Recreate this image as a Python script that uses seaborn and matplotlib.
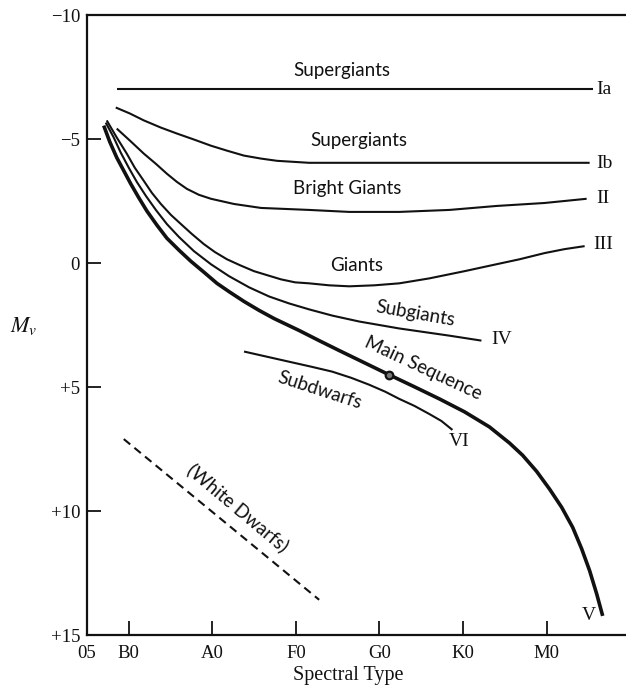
import matplotlib
matplotlib.use("Agg")
import matplotlib.pyplot as plt
import seaborn as sns
import pandas as pd

# ---- data (spectral position, absolute magnitude) ----
spectral_labels = ["05", "B0", "A0", "F0", "G0", "K0", "M0"]
spectral_pos = [0.5, 1, 2, 3, 4, 5, 6]
mag_ticks = [-10, -5, 0, 5, 10, 15]
mag_labels = ["\u221210", "\u22125", "0", "+5", "+10", "+15"]

ia_x = [0.856, 6.552]
ia_y = [-7.0, -7.0]

ib_x = [0.844, 1.012, 1.180, 1.384, 1.576, 1.779, 1.983, 2.175, 2.379, 2.583, 2.775, 3.158, 3.638, 4.837, 6.515]
ib_y = [-6.27, -6.03, -5.75, -5.46, -5.22, -4.98, -4.73, -4.53, -4.33, -4.21, -4.12, -4.04, -4.04, -4.04, -4.04]

ii_x = [0.856, 1.012, 1.180, 1.324, 1.456, 1.576, 1.695, 1.839, 1.983, 2.259, 2.583, 3.158, 3.638,
        4.237, 4.837, 5.400, 5.976, 6.479]
ii_y = [-5.42, -4.94, -4.41, -4.00, -3.60, -3.27, -2.99, -2.75, -2.59, -2.38, -2.22, -2.14, -2.06,
        -2.06, -2.14, -2.30, -2.42, -2.59]

iii_x = [0.736, 0.856, 0.976, 1.072, 1.180, 1.276, 1.384, 1.504, 1.624, 1.755, 1.899, 2.031, 2.175,
         2.331, 2.499, 2.655, 2.822, 2.990, 3.158, 3.398, 3.638, 3.938, 4.237, 4.597, 5.017, 5.400,
         5.676, 5.976, 6.216, 6.455]
iii_y = [-5.75, -5.06, -4.41, -3.84, -3.31, -2.83, -2.38, -1.94, -1.57, -1.17, -0.76, -0.44, -0.15,
         0.09, 0.33, 0.49, 0.66, 0.78, 0.82, 0.90, 0.94, 0.90, 0.82, 0.62, 0.33, 0.05,
         -0.15, -0.40, -0.56, -0.68]

iv_x = [0.724, 0.820, 0.904, 1.000, 1.096, 1.204, 1.324, 1.456, 1.600, 1.779, 1.983, 2.199, 2.439,
        2.679, 2.918, 3.158, 3.434, 3.758, 4.237, 4.837, 5.220]
iv_y = [-5.66, -5.06, -4.45, -3.84, -3.27, -2.71, -2.14, -1.57, -1.05, -0.48, 0.05, 0.53, 0.98,
        1.35, 1.63, 1.87, 2.12, 2.36, 2.64, 2.93, 3.13]

v_x = [0.700, 0.772, 0.856, 0.940, 1.024, 1.120, 1.216, 1.336, 1.456, 1.600, 1.743, 1.899, 2.055,
       2.211, 2.379, 2.559, 2.739, 3.038, 3.278, 3.518, 3.818, 4.117, 4.417, 4.717, 5.017, 5.316,
       5.556, 5.712, 5.880, 6.036, 6.180, 6.312, 6.419, 6.515, 6.599, 6.671]
v_y = [-5.54, -4.89, -4.25, -3.72, -3.19, -2.63, -2.10, -1.53, -1.00, -0.52, -0.07, 0.37, 0.82,
       1.18, 1.55, 1.91, 2.24, 2.72, 3.13, 3.53, 4.02, 4.51, 4.99, 5.48, 6.00, 6.61,
       7.26, 7.75, 8.40, 9.12, 9.85, 10.66, 11.52, 12.41, 13.34, 14.23]

vi_x = [2.379, 2.655, 2.918, 3.182, 3.434, 3.662, 3.878, 4.069, 4.237, 4.417, 4.597, 4.741, 4.873]
vi_y = [3.57, 3.78, 3.98, 4.18, 4.38, 4.63, 4.91, 5.19, 5.48, 5.76, 6.09, 6.37, 6.73]

wd_x = [0.940, 3.278]
wd_y = [7.10, 13.58]

sun_x = [4.117]
sun_y = [4.51]

# ---- figure ----
sns.set_theme(style="ticks")
plt.rcParams["font.family"] = ["Liberation Serif", "DejaVu Serif"]
plt.rcParams["mathtext.fontset"] = "stix"

fig = plt.figure(figsize=(6.26, 6.97), dpi=100)
ax = fig.add_axes([87 / 626, 1 - 635 / 697, 1 - 87 / 626, (635 - 15) / 697])

ink = "#111111"
thin = 1.5
thick = 2.6

def draw(x, y, lw, ls="-"):
    df = pd.DataFrame({"x": x, "y": y})
    sns.lineplot(data=df, x="x", y="y", sort=False, estimator=None, ax=ax,
                 color=ink, lw=lw, linestyle=ls, solid_joinstyle="round",
                 solid_capstyle="butt")

draw(ia_x, ia_y, thin)
draw(ib_x, ib_y, thin)
draw(ii_x, ii_y, thin)
draw(iii_x, iii_y, thin)
draw(iv_x, iv_y, thin)
draw(v_x, v_y, thick)
draw(vi_x, vi_y, thin)
draw(wd_x, wd_y, thin, ls=(0, (4, 2.6)))
sns.scatterplot(x=sun_x, y=sun_y, ax=ax, s=30, facecolor="#777777",
                edgecolor=ink, linewidth=1.6, zorder=5)

ax.set_xlim(0.5, 6.95)
ax.set_ylim(15, -10)
ax.set_xticks(spectral_pos)
ax.set_xticklabels(spectral_labels)
ax.set_yticks(mag_ticks)
ax.set_yticklabels(mag_labels)
ax.tick_params(axis="both", direction="in", length=10, width=1.3, colors=ink,
               labelsize=13.5, top=False, right=False)
ax.tick_params(axis="x", pad=7)
ax.tick_params(axis="y", pad=5)
for s in ["left", "top", "bottom"]:
    ax.spines[s].set_linewidth(1.6)
    ax.spines[s].set_color(ink)
ax.spines["right"].set_visible(False)

ax.set_xlabel("Spectral Type", fontsize=14.5, color=ink)
ax.xaxis.set_label_coords((348 - 87) / (626 - 87), -(666 - 635) / 620)
ax.set_ylabel("$M_v$", fontsize=16, color=ink, rotation=0, va="center", ha="center")
ax.yaxis.set_label_coords((24 - 87) / (626 - 87), 1 - (326 - 15) / 620)

sans = ["Lato", "DejaVu Sans"]
lab = dict(fontsize=13.5, color=ink, family=sans, ha="center", va="center")
ax.text(3.554, -7.77, "Supergiants", **lab)
ax.text(3.758, -4.94, "Supergiants", **lab)
ax.text(3.614, -2.99, "Bright Giants", **lab)
ax.text(3.722, 0.09, "Giants", **lab)
ax.text(4.429, 2.03, "Subgiants", rotation=-10, **lab)
ax.text(4.525, 4.26, "Main Sequence", rotation=-25, **lab)
ax.text(3.278, 5.15, "Subdwarfs", rotation=-18, **lab)
ax.text(2.307, 9.85, "(White Dwarfs)", rotation=-40, **lab)

rom = dict(fontsize=14, color=ink, ha="left", va="center")
ax.text(6.60, -7.0, "Ia", **rom)
ax.text(6.60, -4.0, "Ib", **rom)
ax.text(6.60, -2.6, "II", **rom)
ax.text(6.56, -0.75, "III", **rom)
ax.text(5.34, 3.1, "IV", **rom)
ax.text(4.83, 7.2, "VI", **rom)
ax.text(6.42, 14.2, "V", **rom)

fig.savefig("out.png", dpi=100)
